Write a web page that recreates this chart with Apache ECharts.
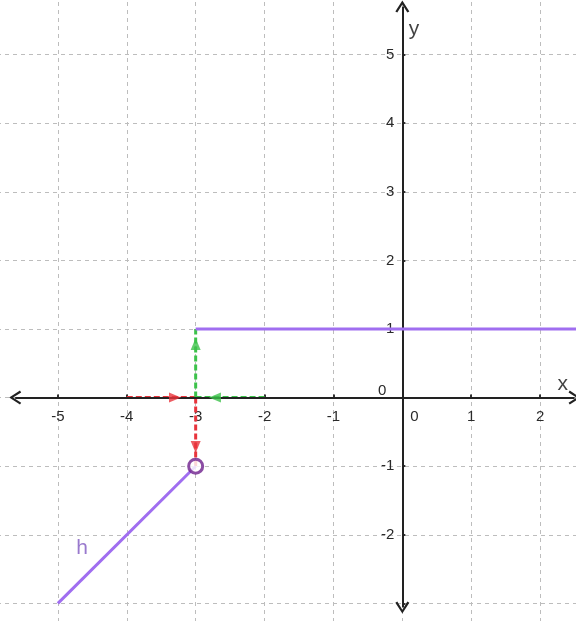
<!DOCTYPE html>
<html>
<head>
<meta charset="utf-8">
<script src="https://cdn.jsdelivr.net/npm/echarts@6/dist/echarts.min.js"></script>
<style>
  html, body { margin: 0; padding: 0; background: #fff; }
  #chart { width: 576px; height: 621px; }
</style>
</head>
<body>
<div id="chart"></div>
<script>
// axis ranges (grid covers a bit more than the visible window)
const xRange = [-6, 3]
const yRange = [-4, 6]
// tick labels hidden under the arrow heads
const hiddenYLabels = [-3]
// visible axis lines with arrow heads at both ends
const xAxisEnds = [[-5.62, 0], [2.5, 0]]
const yAxisEnds = [[0, -3.06], [0, 5.7]]
const axisNames = [{ name: 'x', value: [2.33, 0.2] }, { name: 'y', value: [0.17, 5.37] }]

// function h
const hLeft = [[-5, -3], [-3, -1]]
const hRight = [[-3, 1], [2.6, 1]]
const hHole = [[-3, -1]]
const hLabel = [[-4.65, -2.2]]

// left limit (red) and right limit (green)
const redAlongX = [[-4, 0], [-3, 0]]
const redDown = [[-3, 0], [-3, -1]]
const greenAlongX = [[-2, 0], [-3, 0]]
const greenUp = [[-3, 0], [-3, 1]]
// arrow heads: [x, y, rotation]
const redArrows = [[-3.3, 0, -90], [-3, -0.72, 180]]
const greenArrows = [[-2.72, 0, 90], [-3, 0.78, 0]]

const chart = echarts.init(document.getElementById('chart'))

// grid box in pixels, used to move the axes onto the zero lines
const gridBox = { left: -11, top: -14, width: 620, height: 686 }
const zeroX = gridBox.left + gridBox.width * (0 - xRange[0]) / (xRange[1] - xRange[0])
const zeroY = gridBox.top + gridBox.height * (yRange[1] - 0) / (yRange[1] - yRange[0])

const labelFont = {
  fontFamily: 'Liberation Sans, Arial, sans-serif',
  fontSize: 15,
  color: '#2a2a2a'
}
const gridLine = { show: true, lineStyle: { color: '#bdbdbd', type: [4, 4], width: 1 } }
const chevron = 'path://M5,0 L10,9 L8.6,10 L5,3.2 L1.4,10 L0,9 Z'

const segment = (data, color, dashed) => ({
  type: 'line',
  data: data,
  symbol: 'none',
  z: 4,
  silent: true,
  lineStyle: { color: color, width: 3, type: dashed ? [6, 3] : 'solid' }
})

const arrows = (data, color) => ({
  type: 'scatter',
  data: data.map(a => ({ value: [a[0], a[1]], symbolRotate: a[2] })),
  symbol: 'triangle',
  symbolSize: [10, 12],
  z: 5,
  silent: true,
  itemStyle: { color: color }
})

const option = {
  animation: false,
  grid: { ...gridBox, containLabel: false, outerBoundsMode: 'none' },
  xAxis: {
    type: 'value',
    min: xRange[0],
    max: xRange[1],
    interval: 1,
    position: 'bottom',
    offset: -(gridBox.top + gridBox.height - zeroY),
    axisLine: { show: false, onZero: false },
    axisTick: { show: true, length: 3, inside: true, lineStyle: { color: '#333', width: 2 } },
    splitLine: gridLine,
    axisLabel: {
      ...labelFont,
      margin: 12,
      showMinLabel: false,
      showMaxLabel: false,
      formatter: v => v === 0 ? '{z|0}' : String(v),
      rich: { z: { ...labelFont, padding: [0, 0, 0, 24] } }
    }
  },
  yAxis: {
    type: 'value',
    min: yRange[0],
    max: yRange[1],
    interval: 1,
    position: 'left',
    offset: -(zeroX - gridBox.left),
    axisLine: { show: false, onZero: false },
    axisTick: { show: true, length: 3, inside: true, lineStyle: { color: '#333', width: 2 } },
    splitLine: gridLine,
    axisLabel: {
      ...labelFont,
      margin: 8,
      showMinLabel: false,
      showMaxLabel: false,
      formatter: v => {
        if (hiddenYLabels.includes(v)) return ''
        return v === 0 ? '{z|0}' : String(v)
      },
      rich: { z: { ...labelFont, padding: [0, 8, 14, 0] } }
    }
  },
  series: [
    {
      // coordinate axes drawn with arrow heads
      type: 'line',
      data: [],
      z: 2,
      markLine: {
        silent: true,
        symbol: [chevron, chevron],
        symbolSize: [14, 12],
        label: { show: false },
        lineStyle: { color: '#222', width: 2, type: 'solid' },
        data: [
          [{ coord: xAxisEnds[0] }, { coord: xAxisEnds[1] }],
          [{ coord: yAxisEnds[0] }, { coord: yAxisEnds[1] }]
        ]
      }
    },
    {
      type: 'scatter',
      data: axisNames,
      symbolSize: 0,
      silent: true,
      label: {
        show: true,
        position: 'inside',
        formatter: p => p.name,
        fontFamily: 'Liberation Sans, Arial, sans-serif',
        fontSize: 21,
        color: '#111'
      }
    },
    segment(redAlongX, '#e8343c', true),
    segment(redDown, '#e8343c', true),
    segment(greenAlongX, '#3cc24a', true),
    segment(greenUp, '#3cc24a', true),
    arrows(redArrows, '#e8343c'),
    arrows(greenArrows, '#3cc24a'),
    {
      type: 'line',
      data: hLeft,
      symbol: 'none',
      z: 6,
      silent: true,
      lineStyle: { color: '#a06ef0', width: 3 }
    },
    {
      type: 'line',
      data: hRight,
      symbol: 'none',
      z: 6,
      silent: true,
      lineStyle: { color: '#a06ef0', width: 3 }
    },
    {
      type: 'scatter',
      data: hHole,
      symbol: 'circle',
      symbolSize: 14,
      z: 7,
      silent: true,
      itemStyle: { color: '#fff', borderColor: '#6e1f8c', borderWidth: 3 }
    },
    {
      type: 'scatter',
      data: hLabel,
      symbolSize: 0,
      silent: true,
      label: {
        show: true,
        position: 'inside',
        formatter: 'h',
        fontFamily: 'Liberation Sans, Arial, sans-serif',
        fontSize: 21,
        color: '#7f58c0'
      }
    }
  ]
}

chart.setOption(option)
</script>
</body>
</html>
